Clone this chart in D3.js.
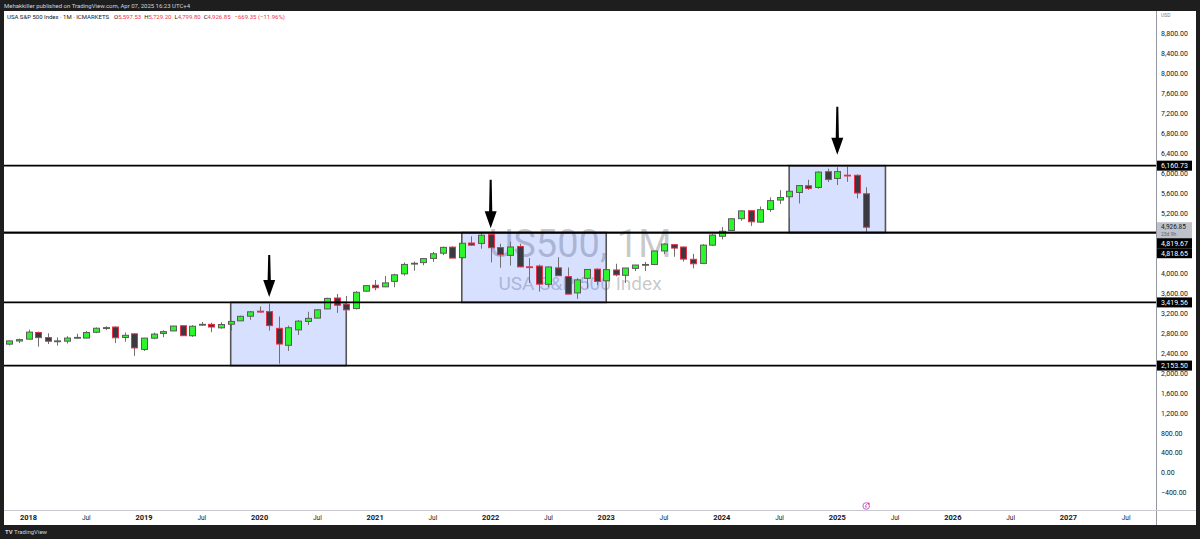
<!DOCTYPE html>
<html>
<head>
<meta charset="utf-8">
<script src="https://cdn.jsdelivr.net/npm/d3@7"></script>
<style>
  html, body { margin: 0; padding: 0; background: #1e1e1e; }
  svg { display: block; font-family: Roboto, "Liberation Sans", sans-serif; }
</style>
</head>
<body>
<div id="chart-area"></div>
<script>
const W = 1200, H = 539;

// Monthly candles, Nov 2017 .. Apr 2025
const dates = [
  "2017-11", "2017-12",
  "2018-01", "2018-02", "2018-03", "2018-04", "2018-05", "2018-06", "2018-07", "2018-08", "2018-09", "2018-10", "2018-11", "2018-12",
  "2019-01", "2019-02", "2019-03", "2019-04", "2019-05", "2019-06", "2019-07", "2019-08", "2019-09", "2019-10", "2019-11", "2019-12",
  "2020-01", "2020-02", "2020-03", "2020-04", "2020-05", "2020-06", "2020-07", "2020-08", "2020-09", "2020-10", "2020-11", "2020-12",
  "2021-01", "2021-02", "2021-03", "2021-04", "2021-05", "2021-06", "2021-07", "2021-08", "2021-09", "2021-10", "2021-11", "2021-12",
  "2022-01", "2022-02", "2022-03", "2022-04", "2022-05", "2022-06", "2022-07", "2022-08", "2022-09", "2022-10", "2022-11", "2022-12",
  "2023-01", "2023-02", "2023-03", "2023-04", "2023-05", "2023-06", "2023-07", "2023-08", "2023-09", "2023-10", "2023-11", "2023-12",
  "2024-01", "2024-02", "2024-03", "2024-04", "2024-05", "2024-06", "2024-07", "2024-08", "2024-09", "2024-10", "2024-11", "2024-12",
  "2025-01", "2025-02", "2025-03", "2025-04"
];
const open = [
  2583, 2646,
  2683, 2816, 2715, 2634, 2643, 2718, 2705, 2821, 2897, 2926, 2717, 2790,
  2477, 2702, 2798, 2848, 2952, 2751, 2971, 2980, 2910, 2983, 3050, 3143,
  3244, 3235, 2900, 2560, 2869, 3038, 3105, 3289, 3508, 3385, 3296, 3645,
  3764, 3732, 3842, 3992, 4192, 4217, 4301, 4406, 4528, 4317, 4610, 4602,
  4778, 4519, 4363, 4540, 4133, 4149, 3782, 4112, 3937, 3610, 3902, 4087,
  3853, 4070, 3963, 4102, 4166, 4180, 4451, 4578, 4530, 4284, 4202, 4567,
  4745, 4862, 5098, 5258, 5029, 5284, 5471, 5538, 5623, 5758, 5724, 6040,
  5904, 5970, 5968, 5597.53
];
const high = [
  2657, 2695,
  2873, 2835, 2801, 2718, 2742, 2791, 2848, 2917, 2941, 2940, 2816, 2800,
  2708, 2813, 2860, 2949, 2955, 2964, 3028, 3013, 3022, 3050, 3154, 3248,
  3338, 3394, 3137, 2955, 3068, 3233, 3280, 3514, 3588, 3550, 3646, 3760,
  3870, 3951, 3995, 4219, 4238, 4302, 4430, 4538, 4546, 4608, 4744, 4808,
  4818, 4595, 4637, 4593, 4307, 4177, 4140, 4325, 4119, 3906, 4081, 4101,
  4095, 4195, 4110, 4170, 4232, 4458, 4607, 4584, 4541, 4393, 4587, 4793,
  4932, 5111, 5265, 5264, 5342, 5524, 5670, 5652, 5768, 5878, 6045, 6100,
  6128, 6147, 5986, 5729.20
];
const low = [
  2557, 2605,
  2683, 2533, 2585, 2553, 2595, 2698, 2699, 2803, 2864, 2604, 2631, 2347,
  2444, 2682, 2722, 2848, 2751, 2728, 2952, 2822, 2892, 2856, 3050, 3071,
  3214, 2855, 2192, 2447, 2766, 2966, 3101, 3285, 3210, 3234, 3279, 3633,
  3663, 3725, 3723, 3955, 4057, 4165, 4233, 4368, 4306, 4279, 4560, 4495,
  4222, 4115, 4157, 4124, 3811, 3637, 3722, 3955, 3584, 3492, 3699, 3764,
  3795, 3943, 3809, 4049, 4048, 4166, 4385, 4335, 4238, 4104, 4197, 4547,
  4683, 4853, 5057, 4954, 5012, 5235, 5391, 5120, 5403, 5674, 5697, 5833,
  5774, 5837, 5505, 4799.80
];
const close = [
  2648, 2674,
  2824, 2714, 2641, 2648, 2705, 2718, 2816, 2902, 2914, 2711, 2760, 2507,
  2704, 2784, 2834, 2946, 2752, 2942, 2980, 2926, 2977, 3038, 3141, 3231,
  3226, 2954, 2585, 2912, 3044, 3100, 3271, 3500, 3363, 3270, 3622, 3756,
  3714, 3811, 3973, 4181, 4204, 4298, 4395, 4523, 4308, 4605, 4567, 4766,
  4516, 4374, 4530, 4132, 4131, 3785, 4130, 3955, 3586, 3872, 4080, 3840,
  4077, 3970, 4109, 4169, 4180, 4450, 4589, 4508, 4288, 4194, 4568, 4770,
  4846, 5096, 5254, 5036, 5278, 5460, 5522, 5648, 5762, 5705, 6032, 5882,
  6041, 5955, 5612, 4926.85
];

// Horizontal levels
const levels = [6160.73, 4819.67, 4818.65, 3419.56, 2153.50];
const lastPrice = 4926.85;
const countdown = "23d 9h";

// Rectangles: start month, end month, top price, bottom price
const boxStart = ["2019-10", "2021-10", "2024-08"];
const boxEnd   = ["2020-10", "2023-01", "2025-06"];
const boxTop   = [3419.56, 4819.67, 6160.73];
const boxBottom = [2153.50, 3419.56, 4819.67];

// Arrows: month, tail price, tip price
const arrowDate = ["2020-02", "2022-01", "2025-01"];
const arrowTail = [4370, 5880, 7340];
const arrowTip  = [3530, 4905, 6380];

// Axis ticks
const priceTicks = d3.range(-400, 8801, 400);
const yearTicks = [2018, 2019, 2020, 2021, 2022, 2023, 2024, 2025, 2026, 2027];

const monthIndex = s => (+s.slice(0, 4) - 2018) * 12 + (+s.slice(5, 7) - 1);

const plot = { left: 4, right: 1156, top: 11, bottom: 510 };

const x = d3.scaleLinear().domain([0, 108]).range([28.5, 1068.4]);
const y = d3.scaleLinear().domain([0, 8800]).range([473, 34]);

const svg = d3.select("#chart-area")
  .append("svg")
    .attr("width", W)
    .attr("height", H);

svg.append("rect").attr("width", W).attr("height", H).attr("fill", "#1e1e1e");
svg.append("rect")
  .attr("x", 4).attr("y", 11)
  .attr("width", 1192).attr("height", 514)
  .attr("fill", "#ffffff");

// top header
svg.append("text")
  .attr("x", 4).attr("y", 7.5)
  .attr("font-size", "6px")
  .attr("fill", "#d1d4dc")
  .text("Mehakkiller published on TradingView.com, Apr 07, 2025 16:23 UTC+4");

svg.append("defs").append("clipPath").attr("id", "plot-clip")
  .append("rect")
    .attr("x", plot.left).attr("y", plot.top)
    .attr("width", plot.right - plot.left).attr("height", plot.bottom - plot.top);

const g = svg.append("g").attr("clip-path", "url(#plot-clip)");

// watermark
const midX = (plot.left + plot.right) / 2;
g.append("text")
  .attr("x", midX).attr("y", 257)
  .attr("text-anchor", "middle")
  .attr("font-size", "38px")
  .attr("fill", "rgba(120,123,134,0.42)")
  .text("US500, 1M");
g.append("text")
  .attr("x", midX).attr("y", 290)
  .attr("text-anchor", "middle")
  .attr("font-size", "19px")
  .attr("fill", "rgba(120,123,134,0.42)")
  .text("USA S&P 500 Index");

// boxes
g.selectAll(".zone")
  .data(boxStart.map((d, i) => ({ s: d, e: boxEnd[i], t: boxTop[i], b: boxBottom[i] })))
  .enter().append("rect")
    .attr("class", "zone")
    .attr("x", d => x(monthIndex(d.s)))
    .attr("y", d => y(d.t))
    .attr("width", d => x(monthIndex(d.e)) - x(monthIndex(d.s)))
    .attr("height", d => y(d.b) - y(d.t))
    .attr("fill", "rgba(41,98,255,0.19)")
    .attr("stroke", "#555")
    .attr("stroke-width", 1.6);

// candles
const candles = dates.map((d, i) => ({
  i: monthIndex(d), o: open[i], h: high[i], l: low[i], c: close[i]
}));
const bw = 6;

const cg = g.selectAll(".candle")
  .data(candles)
  .enter().append("g")
    .attr("class", "candle");

cg.append("line")
  .attr("x1", d => Math.round(x(d.i)) + 0.5)
  .attr("x2", d => Math.round(x(d.i)) + 0.5)
  .attr("y1", d => y(d.h))
  .attr("y2", d => y(d.l))
  .attr("stroke", "#707070")
  .attr("stroke-width", 1);

cg.append("rect")
  .attr("x", d => Math.round(x(d.i)) + 0.5 - bw / 2)
  .attr("y", d => y(Math.max(d.o, d.c)))
  .attr("width", bw)
  .attr("height", d => Math.max(0.8, Math.abs(y(d.o) - y(d.c))))
  .attr("fill", d => d.c >= d.o ? "#2cf52c" : "#3a3a40")
  .attr("stroke", d => d.c >= d.o ? "#5c5c5c" : "#e8304a")
  .attr("stroke-width", 1);

// level lines
g.selectAll(".level")
  .data(levels)
  .enter().append("line")
    .attr("class", "level")
    .attr("x1", plot.left).attr("x2", plot.right)
    .attr("y1", d => y(d)).attr("y2", d => y(d))
    .attr("stroke", "#000")
    .attr("stroke-width", 1.8);

// arrows
const arrows = arrowDate.map((d, i) => ({ x: x(monthIndex(d)), t: y(arrowTail[i]), p: y(arrowTip[i]) }));
g.selectAll(".arrow")
  .data(arrows)
  .enter().append("path")
    .attr("class", "arrow")
    .attr("d", d => {
      const hh = 17, hw = 6;
      return `M${d.x - 1},${d.t} L${d.x + 1},${d.t} L${d.x + 1.6},${d.p - hh} L${d.x + hw},${d.p - hh}
              L${d.x},${d.p} L${d.x - hw},${d.p - hh} L${d.x - 1.6},${d.p - hh} Z`;
    })
    .attr("fill", "#000");

// legend
const legend = svg.append("text")
  .attr("x", 7).attr("y", 19)
  .attr("font-size", "6px")
  .attr("fill", "#131722");
legend.append("tspan").text("USA S&P 500 Index · 1M · ICMARKETS");
const ohlc = [["O", "5,597.53"], ["H", "5,729.20"], ["L", "4,799.80"], ["C", "4,926.85"]];
ohlc.forEach((p, i) => {
  legend.append("tspan").attr("dx", i === 0 ? 5 : 3).text(p[0]);
  legend.append("tspan").attr("fill", "#f23645").text(p[1]);
});
legend.append("tspan").attr("dx", 4).attr("fill", "#f23645").text("−669.35 (−11.96%)");

// price axis
svg.append("line")
  .attr("x1", plot.right + 0.5).attr("x2", plot.right + 0.5)
  .attr("y1", 11).attr("y2", 525)
  .attr("stroke", "#9598a1").attr("stroke-width", 1);
svg.append("text")
  .attr("x", 1161).attr("y", 17)
  .attr("font-size", "5px")
  .attr("fill", "#787b86")
  .text("USD");

// price labels with simple collision push-down
const tags = [{ v: lastPrice, h: 16, cur: true }]
  .concat(levels.map(v => ({ v, h: 10 })))
  .map(d => ({ ...d, top: y(d.v) - 5 }))
  .sort((a, b) => a.top - b.top);
for (let k = 1; k < tags.length; k++) {
  const prev = tags[k - 1];
  if (tags[k].top < prev.top + prev.h) tags[k].top = prev.top + prev.h;
}

// tick labels hidden under a tag are not drawn
const hidden = v => tags.some(t => y(v) > t.top && y(v) < t.top + t.h);

svg.selectAll(".ptick")
  .data(priceTicks.filter(v => !hidden(v)))
  .enter().append("text")
    .attr("class", "ptick")
    .attr("x", 1161)
    .attr("y", d => y(d))
    .attr("dy", "0.35em")
    .attr("font-size", "7px")
    .attr("fill", "#131722")
    .text(d => d3.format(",.2f")(d).replace("-", "−"));

const tg = svg.selectAll(".tag")
  .data(tags)
  .enter().append("g")
    .attr("class", "tag");
tg.append("rect")
  .attr("x", plot.right + 1).attr("y", d => d.top)
  .attr("width", 35).attr("height", d => d.h)
  .attr("fill", d => d.cur ? "#bfc2ca" : "#000");
tg.append("text")
  .attr("x", 1161).attr("y", d => d.cur ? d.top + 4.5 : d.top + 5)
  .attr("dy", "0.35em")
  .attr("font-size", d => d.cur ? "6.5px" : "7px")
  .attr("fill", d => d.cur ? "#131722" : "#fff")
  .text(d => d3.format(",.2f")(d.v));
tg.filter(d => d.cur).append("text")
  .attr("x", 1161).attr("y", d => d.top + 11.8)
  .attr("dy", "0.35em")
  .attr("font-size", "5px")
  .attr("fill", "#5d606b")
  .text(countdown);

// time axis
svg.append("line")
  .attr("x1", 4).attr("x2", 1196)
  .attr("y1", plot.bottom + 0.5).attr("y2", plot.bottom + 0.5)
  .attr("stroke", "#c8cad0").attr("stroke-width", 1);

const timeTicks = [];
yearTicks.forEach(yr => {
  timeTicks.push({ i: (yr - 2018) * 12, label: String(yr), bold: true });
  timeTicks.push({ i: (yr - 2018) * 12 + 6, label: "Jul", bold: false });
});
svg.selectAll(".ttick")
  .data(timeTicks)
  .enter().append("text")
    .attr("class", "ttick")
    .attr("x", d => x(d.i))
    .attr("y", 517.5)
    .attr("dy", "0.35em")
    .attr("text-anchor", "middle")
    .attr("font-size", d => d.bold ? "7.5px" : "6.5px")
    .attr("font-weight", d => d.bold ? "bold" : "normal")
    .attr("fill", "#131722")
    .text(d => d.label);

// events icon
const ev = svg.append("g").attr("transform", `translate(${x(monthIndex("2025-04"))},506)`);
ev.append("circle").attr("r", 3.3).attr("fill", "#fff").attr("stroke", "#c35fd8").attr("stroke-width", 1);
ev.append("path").attr("d", "M0.6,-2 L-1,0.4 L0.4,0.4 L-0.6,2.2").attr("fill", "none").attr("stroke", "#c35fd8").attr("stroke-width", 0.8);
ev.append("circle").attr("cx", 2.4).attr("cy", -2.4).attr("r", 1).attr("fill", "#f23645");

// footer logo
svg.append("text")
  .attr("x", 5).attr("y", 534)
  .attr("font-size", "6px")
  .attr("fill", "#d1d4dc")
  .html('<tspan font-weight="bold">TV</tspan> TradingView');
</script>
</body>
</html>
